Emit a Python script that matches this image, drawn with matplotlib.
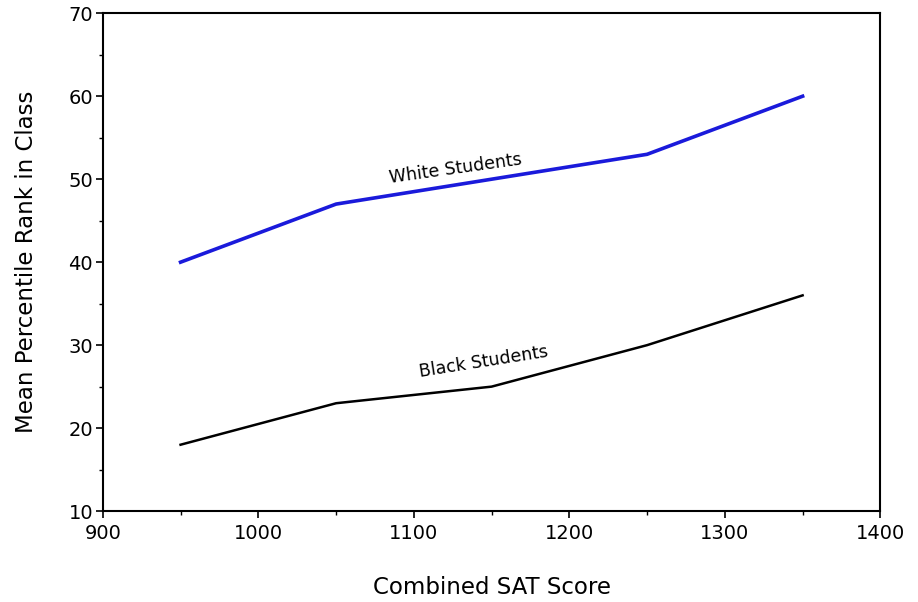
import matplotlib.pyplot as plt
from matplotlib.ticker import MultipleLocator

sat = [950, 1050, 1150, 1250, 1350]
white_rank = [40, 47, 50, 53, 60]
black_rank = [18, 23, 25, 30, 36]

plt.rcParams["font.family"] = ["DejaVu Sans"]

fig = plt.figure(figsize=(9.18, 6.02), dpi=100)
ax = fig.add_axes([0.112, 0.151, 0.847, 0.827])

ax.plot(sat, white_rank, color="#1a1adb", lw=2.6)
ax.plot(sat, black_rank, color="black", lw=1.8)

ax.text(1127, 51.3, "White Students", rotation=8, ha="center", va="center", fontsize=12.5)
ax.text(1145, 28.0, "Black Students", rotation=9, ha="center", va="center", fontsize=12.5)

ax.set_xlim(900, 1400)
ax.set_ylim(10, 70)
ax.xaxis.set_major_locator(MultipleLocator(100))
ax.xaxis.set_minor_locator(MultipleLocator(50))
ax.yaxis.set_major_locator(MultipleLocator(10))
ax.yaxis.set_minor_locator(MultipleLocator(5))
ax.tick_params(which="major", direction="out", length=5, width=1.2, labelsize=14)
ax.tick_params(which="minor", direction="out", length=3, width=1)
ax.tick_params(axis="x", pad=4)
ax.tick_params(axis="y", pad=2)
for s in ax.spines.values():
    s.set_linewidth(1.5)

ax.set_xlabel("Combined SAT Score", fontsize=16.5, labelpad=24)
ax.set_ylabel("Mean Percentile Rank in Class", fontsize=16.5, labelpad=22)

fig.savefig("out.png", dpi=100)
